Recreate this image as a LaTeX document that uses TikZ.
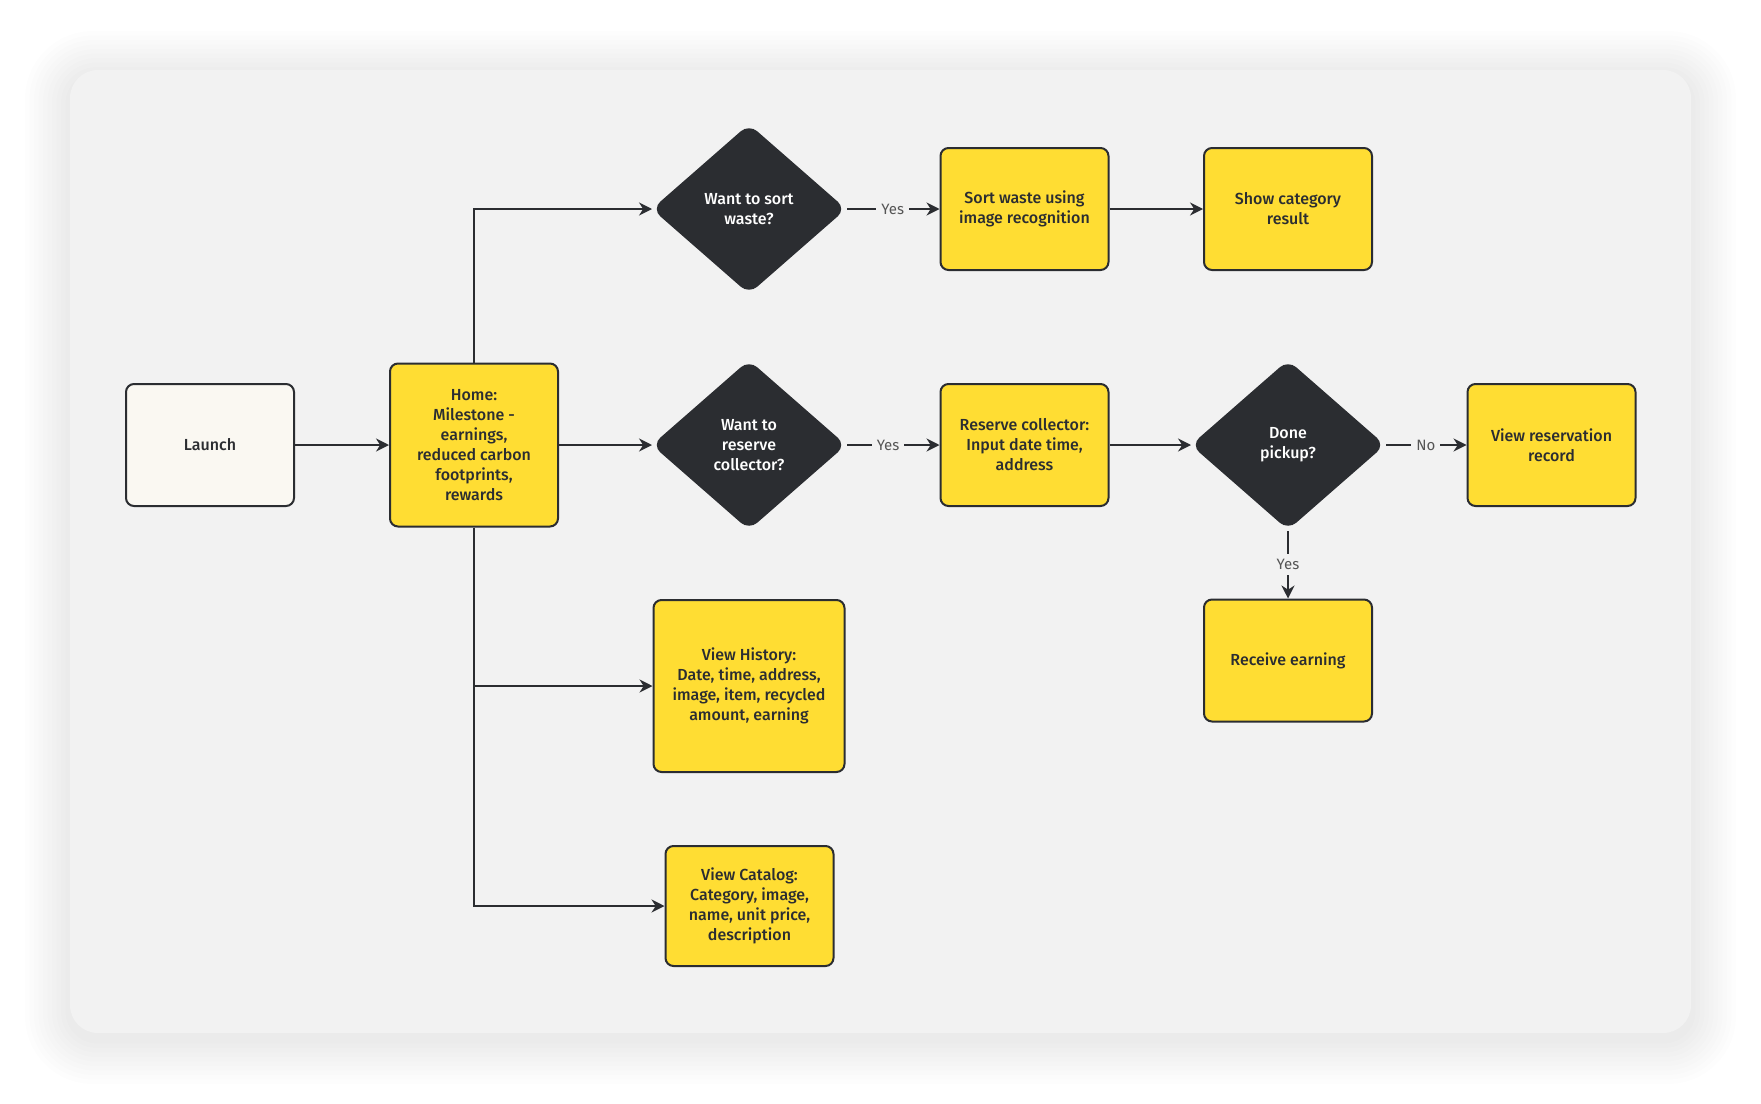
\documentclass[tikz,border=0pt]{standalone}
\usepackage{fontspec}
\setmainfont{Fira Sans}[BoldFont={Fira Sans Medium}]
\usetikzlibrary{shapes.geometric,arrows.meta}
\definecolor{panelgray}{HTML}{F2F2F2}
\definecolor{boxyellow}{HTML}{FFDD33}
\definecolor{inkdark}{HTML}{2B2D31}
\definecolor{launchfill}{HTML}{FAF8F2}
\definecolor{labelgray}{HTML}{555555}

\begin{document}
\begin{tikzpicture}[x=0.5pt, y=-0.5pt,
  every node/.style={font=\fontsize{8}{10}\selectfont\bfseries, align=center, text=inkdark},
  stepbox/.style={draw=inkdark, line width=1pt, fill=boxyellow, rounded corners=4pt,
    minimum width=84pt, minimum height=61pt, inner sep=2pt},
  startbox/.style={stepbox, fill=launchfill},
  decision/.style={diamond, draw=inkdark, fill=inkdark, line width=1pt, rounded corners=5pt,
    minimum width=96pt, minimum height=84pt, inner sep=0pt, text=white},
  flow/.style={draw=inkdark, line width=1pt, -{Stealth[length=6.5pt,width=6.5pt]}},
  fromdiamond/.style={flow, shorten <=0.5pt},
  answer/.style={fill=panelgray, inner sep=2.5pt, text=labelgray,
    font=\fontsize{7.5}{9}\selectfont}
]
\def\panelradius{14pt}

\fill[white] (0, 0) rectangle (1761, 1103);
\useasboundingbox (0, 0) rectangle (1761, 1103);

\foreach \i [evaluate=\i as \rad using 14+2*\i] in {1,...,10}
  \fill[black, opacity=0.008, rounded corners=\rad pt] (70-4.5*\i, 76-4.5*\i) rectangle (1691+4.5*\i, 1039+4.5*\i);
\fill[panelgray, rounded corners=\panelradius] (70, 70) rectangle (1691, 1033);

\node[startbox] (launch) at (210, 445) {Launch};
\node[stepbox, minimum height=81.5pt] (home) at (474, 445)
  {Home:\\ Milestone -\\ earnings,\\ reduced carbon\\ footprints,\\ rewards};

\node[decision] (sort) at (749, 209) {Want to sort\\ waste?};
\node[stepbox] (sortimg) at (1024.5, 209) {Sort waste using\\ image recognition};
\node[stepbox] (showcat) at (1288, 209) {Show category\\ result};

\node[decision] (reserve) at (749, 445) {Want to\\ reserve\\ collector?};
\node[stepbox] (collector) at (1024.5, 445) {Reserve collector:\\ Input date time,\\ address};
\node[decision] (done) at (1288, 445) {Done\\ pickup?};
\node[stepbox] (viewres) at (1551.5, 445) {View reservation\\ record};
\node[stepbox] (receive) at (1288, 660.5) {Receive earning};

\node[stepbox, minimum width=95.5pt, minimum height=86pt] (history) at (749, 686)
  {View History:\\ Date, time, address,\\ image, item, recycled\\ amount, earning};
\node[stepbox, minimum height=60pt] (catalog) at (749.5, 906)
  {View Catalog:\\ Category, image,\\ name, unit price,\\ description};

\draw[flow] (launch) -- (home);
\draw[flow] (home.north) |- (sort);
\draw[flow] (home) -- (reserve);
\draw[flow] (home.south) |- (history);
\draw[flow] (home.south) |- (catalog);

\draw[fromdiamond] (sort) -- node[answer] {Yes} (sortimg);
\draw[flow] (sortimg) -- (showcat);
\draw[fromdiamond] (reserve) -- node[answer, pos=0.45] {Yes} (collector);
\draw[flow] (collector) -- (done);
\draw[fromdiamond] (done) -- node[answer] {No} (viewres);
\draw[fromdiamond] (done) -- node[answer] {Yes} (receive);

\end{tikzpicture}
\end{document}
